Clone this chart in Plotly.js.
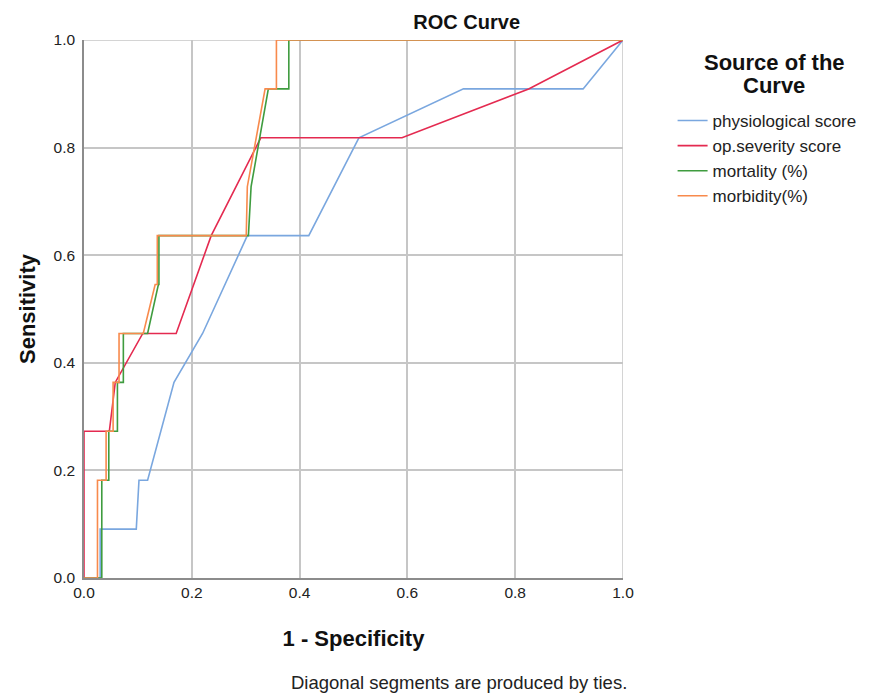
<!DOCTYPE html>
<html>
<head>
<meta charset="utf-8">
<script src="https://cdn.plot.ly/plotly-3.0.1.min.js"></script>
<style>html,body{margin:0;padding:0;background:#fff;}#chart{width:876px;height:693px;}</style>
</head>
<body>
<div id="chart"></div>
<script>
// Series names
var seriesNames = ["physiological score", "op.severity score", "mortality (%)", "morbidity(%)"];

// physiological score
var physX = [0, 0.030, 0.030, 0.097, 0.102, 0.118, 0.167, 0.220, 0.303, 0.417, 0.510, 0.704, 0.926, 1.0];
var physY = [0, 0, 0.0909, 0.0909, 0.1818, 0.1818, 0.3636, 0.4545, 0.6364, 0.6364, 0.8182, 0.9091, 0.9091, 1.0];

// op.severity score
var opX = [0, 0, 0.047, 0.058, 0.109, 0.171, 0.236, 0.328, 0.590, 0.825, 1.0];
var opY = [0, 0.2727, 0.2727, 0.3636, 0.4545, 0.4545, 0.6364, 0.8182, 0.8182, 0.9091, 1.0];

// mortality (%)
var mortX = [0, 0.033, 0.033, 0.046, 0.046, 0.062, 0.062, 0.073, 0.073, 0.118, 0.138, 0.139, 0.139, 0.305, 0.310, 0.342, 0.380, 0.380, 1.0];
var mortY = [0, 0, 0.1818, 0.1818, 0.2727, 0.2727, 0.3636, 0.3636, 0.4545, 0.4545, 0.5455, 0.5455, 0.6364, 0.6364, 0.7273, 0.9091, 0.9091, 1.0, 1.0];

// morbidity(%)
var morbX = [0, 0.025, 0.025, 0.041, 0.041, 0.054, 0.054, 0.065, 0.065, 0.110, 0.132, 0.136, 0.136, 0.301, 0.303, 0.336, 0.357, 0.357, 1.0];
var morbY = [0, 0, 0.1818, 0.1818, 0.2727, 0.2727, 0.3636, 0.3636, 0.4545, 0.4545, 0.5455, 0.5455, 0.6364, 0.6364, 0.7273, 0.9091, 0.9091, 1.0, 1.0];

var tickVals = [0, 0.2, 0.4, 0.6, 0.8, 1.0];
var tickText = ["0.0", "0.2", "0.4", "0.6", "0.8", "1.0"];

var colors = ["#7aa7df", "#e42a50", "#3f9c3f", "#f88a4c"];
var xs = [physX, opX, mortX, morbX];
var ys = [physY, opY, mortY, morbY];

var traces = seriesNames.map(function(n, i){
  return {x: xs[i], y: ys[i], name: n, type: "scatter", mode: "lines",
          line: {color: colors[i], width: 1.6}, hoverinfo: "x+y+name"};
});

var fontFam = "Arial, 'Liberation Sans', sans-serif";
var axisCommon = {
  range: [0, 1], tickvals: tickVals, ticktext: tickText,
  showgrid: true, gridcolor: "#c6c6c6", gridwidth: 1.5,
  zeroline: false, showline: true, linecolor: "#8c8c8c", linewidth: 1.5,
  ticks: "", tickfont: {family: fontFam, size: 15.5, color: "#222"},
  fixedrange: true, mirror: false
};

var layout = {
  width: 876, height: 693,
  margin: {l: 84, r: 253, t: 40, b: 115},
  paper_bgcolor: "#fff", plot_bgcolor: "#fff",
  font: {family: fontFam, color: "#111"},
  title: {text: "<b>ROC Curve</b>", font: {family: fontFam, size: 20, color: "#111"},
          x: 0.71, xanchor: "center", y: 0.968, yanchor: "middle", xref: "paper"},
  xaxis: Object.assign({}, axisCommon, {
    title: {text: "<b>1 - Specificity</b>", font: {family: fontFam, size: 22, color: "#111"}, standoff: 30}
  }),
  yaxis: Object.assign({}, axisCommon, {
    title: {text: "<b>Sensitivity</b>", font: {family: fontFam, size: 22, color: "#111"}, standoff: 12},
    ticklabelstandoff: 4
  }),
  shapes: [
    {type: "line", xref: "x", yref: "y", x0: 1, x1: 1, y0: 0, y1: 1, line: {color: "#c6c6c6", width: 1.5}, layer: "below"},
    {type: "line", xref: "x", yref: "y", x0: 0, x1: 1, y0: 1, y1: 1, line: {color: "#c6c6c6", width: 1.5}, layer: "below"}
  ],
  showlegend: true,
  legend: {x: 1.092, xanchor: "left", y: 0.883, yanchor: "top",
           font: {family: fontFam, size: 17, color: "#222"},
           itemwidth: 30, tracegroupgap: 0, bgcolor: "rgba(0,0,0,0)"},
  annotations: [
    {text: "<b>Source of the</b>", xref: "paper", yref: "paper", x: 1.281, y: 1 - 22 / 538,
     xanchor: "center", yanchor: "middle", showarrow: false,
     font: {family: fontFam, size: 22, color: "#111"}},
    {text: "<b>Curve</b>", xref: "paper", yref: "paper", x: 1.281, y: 1 - 45 / 538,
     xanchor: "center", yanchor: "middle", showarrow: false,
     font: {family: fontFam, size: 22, color: "#111"}},
    {text: "Diagonal segments are produced by ties.", xref: "paper", yref: "paper",
     x: 0.695, y: -(682 - 578) / 538, xanchor: "center", yanchor: "middle", showarrow: false,
     font: {family: fontFam, size: 18.5, color: "#222"}}
  ]
};

Plotly.newPlot("chart", traces, layout, {displayModeBar: false, staticPlot: false});
</script>
</body>
</html>
